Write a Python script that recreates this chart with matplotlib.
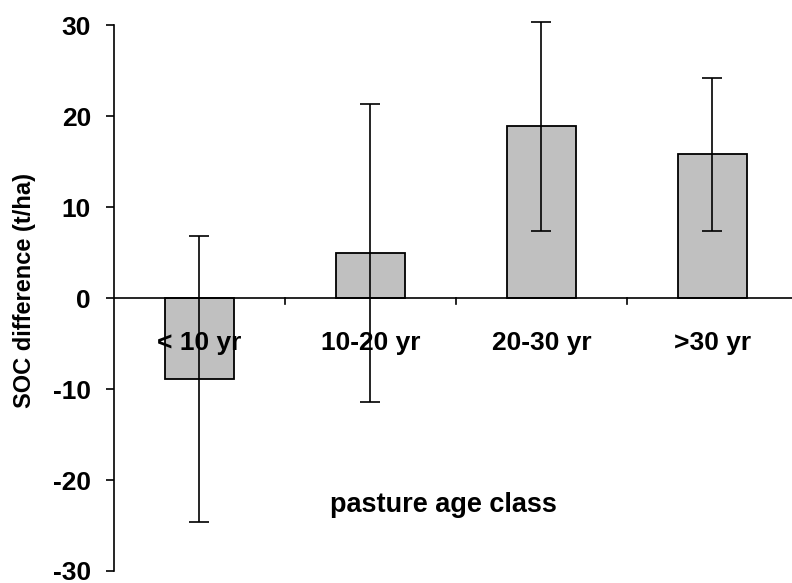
import matplotlib
matplotlib.use("Agg")
import matplotlib.pyplot as plt
from matplotlib.transforms import blended_transform_factory

categories = ["< 10 yr", "10-20 yr", "20-30 yr", ">30 yr"]
soc_diff = [-8.9, 5.0, 18.9, 15.8]
soc_err = [15.7, 16.4, 11.5, 8.4]
y_ticks = [-30, -20, -10, 0, 10, 20, 30]

plt.rcParams["font.family"] = ["Liberation Sans", "DejaVu Sans"]
plt.rcParams["axes.unicode_minus"] = False

fig = plt.figure(figsize=(7.92, 5.83), dpi=100)
W, H = 792, 583
ax = fig.add_axes([114 / W, 12 / H, (792 - 114) / W, (571 - 25.3) / H])

x = list(range(len(categories)))
ax.bar(x, soc_diff, width=0.4, color="#c0c0c0", edgecolor="black",
       linewidth=1.3, zorder=2)
eb = ax.errorbar(x, soc_diff, yerr=soc_err, fmt="none", ecolor="black",
                 elinewidth=1.2, capsize=7, capthick=1.2, zorder=3)
for artist in list(eb.lines[1]) + list(eb.lines[2]):
    artist.set_clip_on(False)

ax.set_xlim(-0.5, 3.465)
ax.set_ylim(-30, 30)

# x axis drawn at zero, with category separators hanging below
ax.axhline(0, color="black", linewidth=1.2, zorder=4)
for b in [0.5, 1.5, 2.5]:
    ax.plot([b, b], [0, -0.6], color="black", linewidth=1.2, zorder=4,
            clip_on=False)

for xi, lab in zip(x, categories):
    ax.text(xi, -5.75, lab, ha="center", va="baseline", fontsize=19,
            fontweight="bold", zorder=5)

for s in ["top", "right", "bottom"]:
    ax.spines[s].set_visible(False)
ax.spines["left"].set_linewidth(1.2)
ax.set_xticks([])
ax.set_yticks(y_ticks)
ax.tick_params(axis="y", direction="out", length=5.5, width=1.2, pad=11,
               labelsize=19)
for t in ax.get_yticklabels():
    t.set_fontweight("bold")

ax.text((443 - 114) / (792 - 114), -23.5, "pasture age class",
        transform=blended_transform_factory(ax.transAxes, ax.transData),
        ha="center", va="baseline", fontsize=19.5, fontweight="bold")

fig.text(25 / W, 1 - 291 / H, "SOC difference (t/ha)", rotation=90,
         ha="center", va="center", fontsize=17, fontweight="bold")

fig.savefig("out.png", dpi=100)
